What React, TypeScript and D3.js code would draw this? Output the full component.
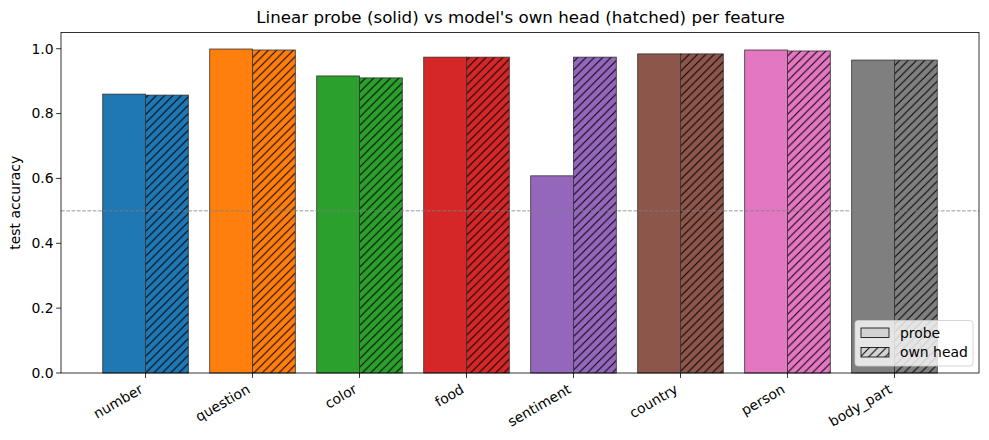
import * as d3 from "d3";

const features = ["number", "question", "color", "food", "sentiment", "country", "person", "body_part"];
const probeAcc = [0.860, 0.999, 0.916, 0.974, 0.608, 0.984, 0.996, 0.965];
const headAcc = [0.857, 0.996, 0.910, 0.974, 0.974, 0.984, 0.993, 0.965];
const colors = ["#1f77b4", "#ff7f0e", "#2ca02c", "#d62728", "#9467bd", "#8c564b", "#e377c2", "#7f7f7f"];
const yTicks = [0, 0.2, 0.4, 0.6, 0.8, 1.0];

const W = 989;
const H = 440;
const margin = {top: 32.5, right: 10, bottom: 67, left: 61};
const font = "'DejaVu Sans', sans-serif";
const hatchStep = 100 / 12;

export default function App() {
    const plotW = W - margin.left - margin.right;
    const plotH = H - margin.top - margin.bottom;
    const barW = 0.4;

    // linear x axis with 5% margins, like matplotlib
    const xmin = -barW, xmax = features.length - 1 + barW;
    const pad = (xmax - xmin) * 0.05;
    const x = d3.scaleLinear().domain([xmin - pad, xmax + pad]).range([0, plotW]);
    const y = d3.scaleLinear().domain([0, 1.05]).range([plotH, 0]);
    const px = x(barW) - x(0);
    const s = hatchStep;

    return (
        <svg width={W} height={H} style={{position: "absolute", left: 0, top: 0}} fontFamily={font}>
            <defs>
                <pattern id="hatch" patternUnits="userSpaceOnUse" width={s} height={s}>
                    <path d={`M0,${s} L${s},0 M-1,1 L1,-1 M${s - 1},${s + 1} L${s + 1},${s - 1}`}
                          stroke="#000" strokeWidth={1}/>
                </pattern>
            </defs>
            <rect width={W} height={H} fill="#fff"/>
            <text x={W / 2 + 26} y={23} textAnchor="middle" fontSize={16.7}>
                Linear probe (solid) vs model's own head (hatched) per feature
            </text>
            <g transform={`translate(${margin.left},${margin.top})`}>
                {features.map((f, i) => (
                    <g key={f}>
                        <rect x={x(i - barW)} y={y(probeAcc[i])} width={px} height={y(0) - y(probeAcc[i])}
                              fill={colors[i]} stroke="#333" strokeWidth={0.8}/>
                        <rect x={x(i)} y={y(headAcc[i])} width={px} height={y(0) - y(headAcc[i])}
                              fill={colors[i]}/>
                        <rect x={x(i)} y={y(headAcc[i])} width={px} height={y(0) - y(headAcc[i])}
                              fill="url(#hatch)" stroke="#333" strokeWidth={0.8}/>
                    </g>
                ))}
                <line x1={0} x2={plotW} y1={y(0.5)} y2={y(0.5)} stroke="gray" strokeWidth={0.8}
                      strokeDasharray="3.7,1.6"/>
                <rect x={0} y={0} width={plotW} height={plotH} fill="none" stroke="#000" strokeWidth={0.8}/>
                {yTicks.map(t => (
                    <g key={t} transform={`translate(0,${y(t)})`}>
                        <line x1={-4.9} x2={0} stroke="#000" strokeWidth={0.8}/>
                        <text x={-7.5} dy="0.35em" textAnchor="end" fontSize={13.9}>{t.toFixed(1)}</text>
                    </g>
                ))}
                {features.map((f, i) => (
                    <g key={f} transform={`translate(${x(i)},${plotH})`}>
                        <line y1={0} y2={4.9} stroke="#000" strokeWidth={0.8}/>
                        <text transform="translate(-1.5,19) rotate(-30)" textAnchor="end" fontSize={13.9}>{f}</text>
                    </g>
                ))}
                <text transform={`translate(${-41},${plotH / 2}) rotate(-90)`} textAnchor="middle" fontSize={13.9}>
                    test accuracy
                </text>
                <g transform={`translate(${plotW - 124},${plotH - 52.5})`}>
                    <rect x={0} y={0} width={118} height={45.5} rx={3} fill="#fff" fillOpacity={0.8}
                          stroke="#ccc" strokeWidth={0.8}/>
                    <rect x={6} y={7.5} width={28} height={9.5} fill="#d3d3d3" stroke="#000" strokeWidth={0.8}/>
                    <text x={45} y={12.5} dy="0.35em" fontSize={13.9}>probe</text>
                    <rect x={6} y={27} width={28} height={9.5} fill="#d3d3d3"/>
                    <rect x={6} y={27} width={28} height={9.5} fill="url(#hatch)" stroke="#000" strokeWidth={0.8}/>
                    <text x={45} y={32} dy="0.35em" fontSize={13.9}>own head</text>
                </g>
            </g>
        </svg>
    );
}
